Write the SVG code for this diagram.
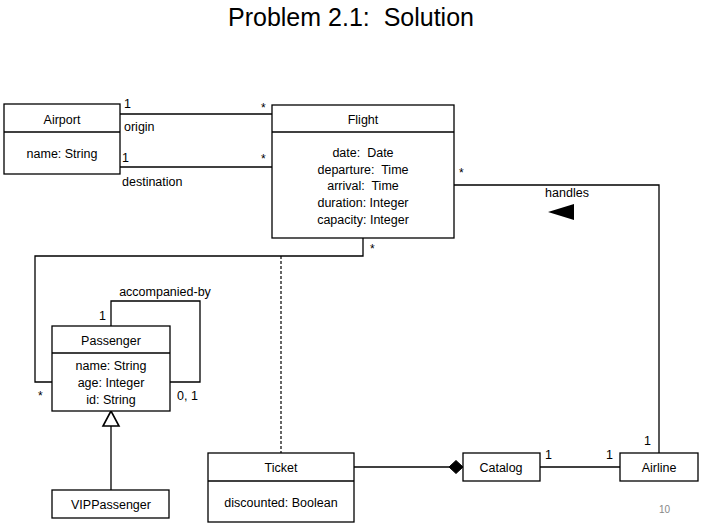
<svg xmlns="http://www.w3.org/2000/svg" width="706" height="528" viewBox="0 0 706 528">
<style>
.box{fill:#fff;stroke:#000;stroke-width:1.3}
.ln{fill:none;stroke:#000;stroke-width:1.3}
.dash{fill:none;stroke:#000;stroke-width:1.2;stroke-dasharray:3,2}
text{font-family:"Liberation Sans",Arial,sans-serif;font-size:12.5px;fill:#000;white-space:pre}
.c{text-anchor:middle}
.t{font-size:25px}
.m{font-size:12px}
.pg{font-size:10px;fill:#888}
</style>
<rect width="706" height="528" fill="#fff"/>
<text class="c t" x="351" y="26">Problem 2.1:  Solution</text>

<g id="connectors">
  <path class="ln" d="M120,114H272"/>
  <path class="ln" d="M120,167H272"/>
  <path class="ln" d="M454,185H659V454"/>
  <path class="ln" d="M363,238V256H35V382H52"/>
  <path class="ln" d="M111,326V301H200V382H170"/>
  <path class="dash" d="M281,256V453"/>
  <path class="ln" d="M111,426V490"/>
  <polygon class="box" points="111,411 103,426 119,426" style="stroke-width:1.6"/>
  <path class="ln" d="M354,467H449"/>
  <polygon points="449,467 456,460.5 463,467 456,473.5" fill="#000" stroke="#000"/>
  <path class="ln" d="M540,467H620"/>
  <polygon points="548,212 574,204 574,220" fill="#000"/>
  <text x="124" y="108">1</text>
  <text class="m" x="261" y="112">*</text>
  <text x="124" y="131">origin</text>
  <text x="122" y="162">1</text>
  <text class="m" x="261" y="163">*</text>
  <text x="122" y="186">destination</text>
  <text class="m" x="459" y="177">*</text>
  <text class="c" x="567" y="197">handles</text>
  <text class="m" x="370" y="253">*</text>
  <text class="m" x="38" y="400">*</text>
  <text class="c" x="165" y="296">accompanied-by</text>
  <text x="99" y="320">1</text>
  <text x="177" y="400">0, 1</text>
  <text x="545" y="459">1</text>
  <text x="606" y="459">1</text>
  <text x="644" y="445">1</text>
</g>

<g id="airport">
  <rect class="box" x="4" y="104" width="116" height="70"/>
  <path class="ln" d="M4,132H120"/>
  <text class="c" x="62" y="124">Airport</text>
  <text class="c" x="62" y="158">name: String</text>
</g>

<g id="flight">
  <rect class="box" x="272" y="105" width="182" height="133"/>
  <path class="ln" d="M272,132H454"/>
  <text class="c" x="363" y="124">Flight</text>
  <text class="c" x="363" y="157">date:  Date</text>
  <text class="c" x="363" y="174">departure:  Time</text>
  <text class="c" x="363" y="190">arrival:  Time</text>
  <text class="c" x="363" y="207">duration: Integer</text>
  <text class="c" x="363" y="224">capacity: Integer</text>
</g>

<g id="passenger">
  <rect class="box" x="52" y="326" width="118" height="85"/>
  <path class="ln" d="M52,353H170"/>
  <text class="c" x="111" y="345">Passenger</text>
  <text class="c" x="111" y="370">name: String</text>
  <text class="c" x="111" y="387">age: Integer</text>
  <text class="c" x="111" y="404">id: String</text>
</g>

<g id="vippassenger">
  <rect class="box" x="52" y="490" width="117" height="28"/>
  <text class="c" x="111" y="509">VIPPassenger</text>
</g>

<g id="ticket">
  <rect class="box" x="208" y="453" width="146" height="69"/>
  <path class="ln" d="M208,481H354"/>
  <text class="c" x="281" y="472">Ticket</text>
  <text class="c" x="281" y="507">discounted: Boolean</text>
</g>

<g id="catalog">
  <rect class="box" x="463" y="453" width="77" height="28"/>
  <text class="c" x="501" y="472">Catalog</text>
</g>

<g id="airline">
  <rect class="box" x="620" y="453" width="78" height="28"/>
  <text class="c" x="659" y="472">Airline</text>
</g>

<text class="pg" x="659" y="513">10</text>
</svg>
